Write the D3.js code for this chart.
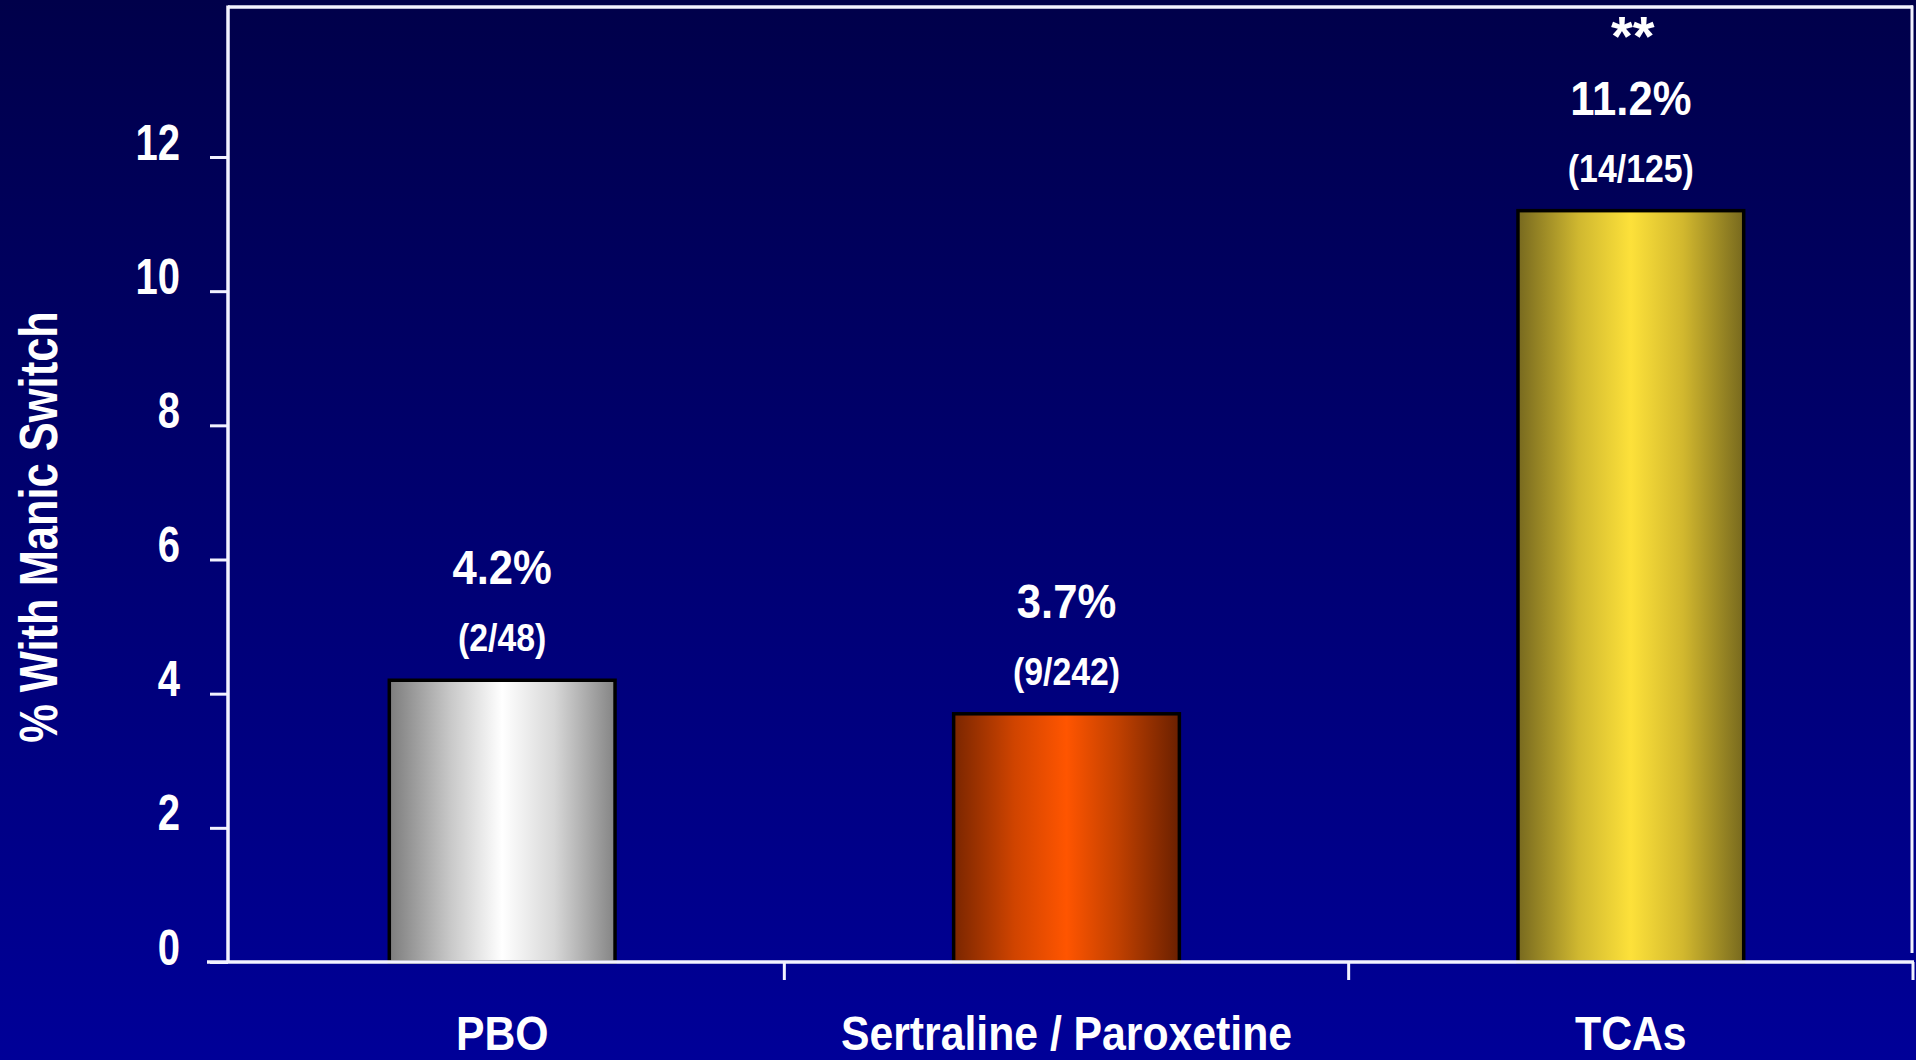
<!DOCTYPE html>
<html>
<head>
<meta charset="utf-8">
<script src="https://cdn.jsdelivr.net/npm/d3@7"></script>
<style>
  html, body { margin: 0; padding: 0; background: #000070; }
  svg { display: block; }
  text { font-family: "Liberation Sans", Arial, Helvetica, sans-serif; font-weight: bold; fill: #ffffff; }
</style>
</head>
<body>
<svg id="chart" width="1916" height="1060"></svg>
<script>
// Manic switch rate by treatment group
const categories = ["PBO", "Sertraline / Paroxetine", "TCAs"];
const rates = [4.2, 3.7, 11.2];            // % with manic switch
const counts = ["(2/48)", "(9/242)", "(14/125)"];
const marks = ["", "", "**"];
const yTicks = [0, 2, 4, 6, 8, 10, 12];
const yTitle = "% With Manic Switch";

const W = 1916, H = 1060;
const svg = d3.select("#chart");
const defs = svg.append("defs");

// background: vertical navy gradient
const bg = defs.append("linearGradient").attr("id", "bg")
  .attr("x1", 0).attr("y1", 0).attr("x2", 0).attr("y2", 1);
bg.append("stop").attr("offset", "0%").attr("stop-color", "#00004a");
bg.append("stop").attr("offset", "100%").attr("stop-color", "#000098");
svg.append("rect").attr("width", W).attr("height", H).attr("fill", "url(#bg)");

// horizontal "cylinder" shading for each bar
const barShades = [
  ["#7c7c7c", "#c8c8c8", "#ffffff", "#d8d8d8", "#848484"],
  ["#7a2600", "#d04400", "#ff5500", "#c04000", "#6a2000"],
  ["#77691f", "#d0b830", "#fde13a", "#d2b82e", "#77691e"]
];
barShades.forEach((c, i) => {
  const g = defs.append("linearGradient").attr("id", "bar" + i)
    .attr("x1", 0).attr("y1", 0).attr("x2", 1).attr("y2", 0);
  [0, 0.27, 0.5, 0.73, 1].forEach((o, k) =>
    g.append("stop").attr("offset", o).attr("stop-color", c[k]));
});

// scales
const plotLeft = 228, plotRight = 1913, plotTop = 7, baseY = 962;
const x = d3.scaleBand().domain(categories)
  .range([220, plotRight]).paddingInner(0.6).paddingOuter(0.3);
const y = d3.scaleLinear().domain([0, 12]).range([baseY, 157]);

const frame = "#f2f2ff";
const sx = 0.89; // slightly condensed lettering

// frame: top and right edges
svg.append("line").attr("x1", plotLeft).attr("x2", plotRight)
  .attr("y1", plotTop).attr("y2", plotTop)
  .attr("stroke", frame).attr("stroke-width", 3.5);
svg.append("line").attr("x1", plotRight - 1).attr("x2", plotRight - 1)
  .attr("y1", plotTop - 1.5).attr("y2", baseY - 9)
  .attr("stroke", frame).attr("stroke-width", 3);

// bars
svg.append("g").selectAll("rect").data(categories).join("rect")
  .attr("x", d => x(d))
  .attr("y", (d, i) => y(rates[i]))
  .attr("width", x.bandwidth())
  .attr("height", (d, i) => y(0) - y(rates[i]))
  .attr("fill", (d, i) => `url(#bar${i})`)
  .attr("stroke", "#000").attr("stroke-width", 3.5);

// y axis
const yAxis = svg.append("g").attr("transform", `translate(${plotLeft},0)`)
  .call(d3.axisLeft(y).tickValues(yTicks).tickSize(18).tickSizeOuter(0));
yAxis.select(".domain").remove();
yAxis.selectAll(".tick line").attr("stroke", frame).attr("stroke-width", 3);
yAxis.selectAll(".tick text")
  .attr("x", 0).attr("dy", null).attr("y", 0)
  .attr("transform", `translate(-48,2) scale(0.8,1)`)
  .style("font-size", "50px").style("font-family", null)
  .attr("fill", "#fff").attr("text-anchor", "end");
svg.append("line").attr("x1", plotLeft).attr("x2", plotLeft)
  .attr("y1", plotTop - 1.5).attr("y2", baseY)
  .attr("stroke", frame).attr("stroke-width", 3.5);

// x axis baseline and category separators
svg.append("line").attr("x1", 207).attr("x2", plotRight + 1)
  .attr("y1", baseY).attr("y2", baseY)
  .attr("stroke", frame).attr("stroke-width", 3.5);
const seps = categories.map(c => x(c) + x.bandwidth() / 2 + x.step() / 2);
svg.append("g").selectAll("line").data(seps).join("line")
  .attr("x1", d => Math.min(d, plotRight)).attr("x2", d => Math.min(d, plotRight))
  .attr("y1", baseY).attr("y2", baseY + 18)
  .attr("stroke", frame).attr("stroke-width", 3);

// category labels
svg.append("g").selectAll("text").data(categories).join("text")
  .attr("transform", d => `translate(${x(d) + x.bandwidth() / 2},1050) scale(${sx},1)`)
  .attr("text-anchor", "middle").style("font-size", "48px")
  .text(d => d);

// value labels above bars
const lab = svg.append("g").selectAll("g").data(categories).join("g")
  .attr("transform", (d, i) => `translate(${x(d) + x.bandwidth() / 2},${y(rates[i])})`);
lab.append("text")
  .attr("transform", `translate(0,-96) scale(${sx},1)`)
  .attr("text-anchor", "middle").style("font-size", "49px")
  .text((d, i) => rates[i].toFixed(1) + "%");
lab.append("text")
  .attr("transform", `translate(0,-29) scale(${sx},1)`)
  .attr("text-anchor", "middle").style("font-size", "38px")
  .text((d, i) => counts[i]);
lab.append("text")
  .attr("transform", `translate(2,-156)`)
  .attr("text-anchor", "middle").style("font-size", "56px")
  .text((d, i) => marks[i]);

// y axis title
svg.append("text")
  .attr("transform", `translate(57,527) rotate(-90) scale(0.82,1)`)
  .attr("text-anchor", "middle").style("font-size", "53px")
  .text(yTitle);
</script>
</body>
</html>
